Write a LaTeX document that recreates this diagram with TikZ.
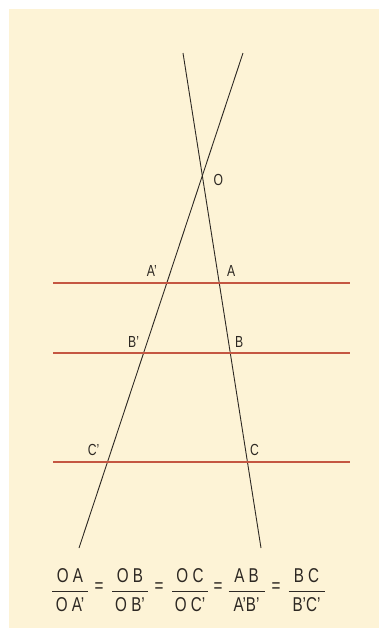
\documentclass[tikz,border=0pt]{standalone}
\usepackage{amsmath}
\usepackage{fontspec}
\setmainfont{Liberation Sans}[FakeStretch=0.76]
\definecolor{paper}{RGB}{253,243,214}
\definecolor{parred}{RGB}{196,86,66}
\definecolor{ink}{RGB}{45,40,35}
\newcommand{\ratio}[2]{$\genfrac{}{}{1.5pt}{0}{\makebox[36pt]{#1}}{\makebox[36pt]{#2}}$}
\tikzset{
  secant/.style={ink,line width=0.9pt},
  parallel/.style={parred,line width=1.7pt},
  ptlabel/.style={ink,font=\fontsize{16}{16}\selectfont,inner sep=0pt},
  ratiotext/.style={ink,font=\fontsize{20}{20}\selectfont,inner sep=0pt}
}

\begin{document}
\begin{tikzpicture}[x=1pt,y=-1pt]
\useasboundingbox (0,0) rectangle (379,630);
\fill[paper] (9,9) rectangle (379,628);
% the two secants
\coordinate (top1) at (183,53);
\coordinate (bot1) at (261,548);
\coordinate (top2) at (243,53);
\coordinate (bot2) at (79,548);
\draw[secant] (top1) -- (bot1);
\draw[secant] (top2) -- (bot2);
% the three parallels
\coordinate (la) at (53,283);
\coordinate (ra) at (350,283);
\coordinate (lb) at (53,353);
\coordinate (rb) at (350,353);
\coordinate (lc) at (53,462);
\coordinate (rc) at (350,462);
\draw[parallel] (la) -- (ra);
\draw[parallel] (lb) -- (rb);
\draw[parallel] (lc) -- (rc);
% points
\coordinate (O) at (intersection of top1--bot1 and top2--bot2);
\coordinate (A) at (intersection of top1--bot1 and la--ra);
\coordinate (B) at (intersection of top1--bot1 and lb--rb);
\coordinate (C) at (intersection of top1--bot1 and lc--rc);
\coordinate (A') at (intersection of top2--bot2 and la--ra);
\coordinate (B') at (intersection of top2--bot2 and lb--rb);
\coordinate (C') at (intersection of top2--bot2 and lc--rc);
\node[ptlabel,right] (labO) at ([xshift=11pt,yshift=-4pt]O) {O};
\node[ptlabel] (labA) at ([xshift=12pt,yshift=12pt]A) {A};
\node[ptlabel] (labB) at ([xshift=9pt,yshift=11pt]B) {B};
\node[ptlabel] (labC) at ([xshift=7pt,yshift=12pt]C) {C};
\node[ptlabel] (labA') at ([xshift=-15pt,yshift=12pt]A') {A’};
\node[ptlabel] (labB') at ([xshift=-10pt,yshift=11pt]B') {B’};
\node[ptlabel] (labC') at ([xshift=-14pt,yshift=12pt]C') {C’};
% the ratios
\node[ratiotext] (r1) at (70,590) {\ratio{O A}{O A’}};
\node[ratiotext] (r2) at (130,590) {\ratio{O B}{O B’}};
\node[ratiotext] (r3) at (190,590) {\ratio{O C}{O C’}};
\node[ratiotext] (r4) at (246.5,590) {\ratio{A B}{A’B’}};
\node[ratiotext] (r5) at (306.5,590) {\ratio{B C}{B’C’}};
\node[ratiotext] (e1) at (99,588) {=};
\node[ratiotext] (e2) at (159,588) {=};
\node[ratiotext] (e3) at (218,588) {=};
\node[ratiotext] (e4) at (276,588) {=};
\end{tikzpicture}
\end{document}
